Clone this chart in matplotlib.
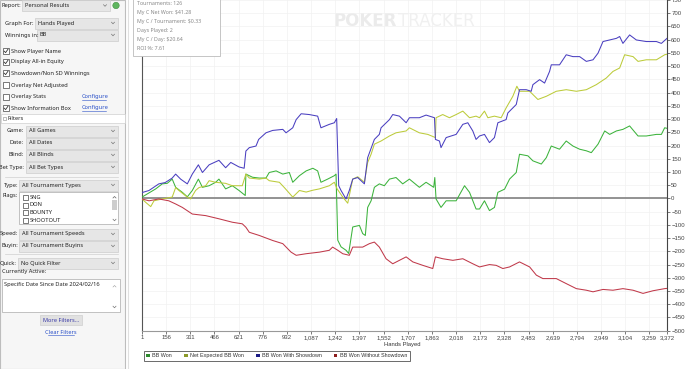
import matplotlib
matplotlib.use("Agg")
import matplotlib.pyplot as plt
from matplotlib.patches import Rectangle, Patch, Circle

# ---- data (hands played, BB) ----
hands_won = [1, 35, 89, 131, 163, 195, 217, 260, 292, 324, 363, 389, 432, 474, 495, 538, 581, 624,
             664, 668, 711, 754, 797, 818, 862, 905, 947, 969, 1012, 1055, 1098, 1129, 1150, 1193,
             1236, 1247, 1258, 1279, 1311, 1328, 1354, 1397, 1418, 1435, 1450, 1472, 1493, 1525,
             1557, 1590, 1632, 1675, 1718, 1782, 1825, 1874, 1881, 1889, 1921, 1954, 2018, 2072,
             2104, 2146, 2168, 2200, 2232, 2264, 2286, 2329, 2361, 2404, 2425, 2479, 2511, 2565,
             2597, 2629, 2682, 2725, 2768, 2811, 2854, 2886, 2929, 2972, 3004, 3047, 3089, 3132,
             3186, 3239, 3304, 3336, 3357, 3372]
bb_won = [5, 17, 36, 55, 57, 73, 42, 23, 6, 30, 73, 42, 48, 61, 73, 36, 48, 30,
          11, 92, 80, 77, 77, 98, 104, 92, 98, 61, 86, 104, 114, 104, 61, 73,
          86, 92, -158, -183, -196, -208, -108, -102, -133, -140, -34, -9, 42, 55,
          48, 73, 79, 55, 73, 42, 61, 42, 79, -2, -34, -9, -9, 48,
          23, -40, -40, -9, -46, -34, 23, 35, 73, 98, 167, 161, 142, 130,
          154, 198, 186, 217, 198, 186, 180, 173, 205, 255, 242, 255, 261, 274,
          236, 236, 242, 242, 267, 265]

hands_exp = [1, 25, 57, 78, 131, 195, 217, 238, 292, 313, 345, 367, 410, 432, 474, 538, 581, 645,
             668, 690, 754, 797, 818, 883, 915, 969, 1012, 1055, 1098, 1140, 1204, 1236, 1254,
             1290, 1322, 1354, 1386, 1429, 1450, 1472, 1493, 1536, 1590, 1632, 1697, 1718, 1782,
             1836, 1885, 1889, 1932, 1975, 2018, 2061, 2104, 2146, 2168, 2200, 2222, 2264, 2307,
             2339, 2382, 2408, 2425, 2490, 2543, 2597, 2661, 2725, 2790, 2854, 2918, 2982, 3025,
             3068, 3100, 3154, 3186, 3239, 3304, 3357, 3372]
net_expected = [-2, -15, -31, -9, -2, 5, 41, 30, 5, -2, 30, 41, 48, 67, 61, 57, 48, 48,
                92, 77, 73, 77, 67, 61, 41, 5, 30, 24, 31, 36, 48, 61, 36,
                5, -18, 73, 82, 61, 136, 167, 205, 217, 236, 248, 255, 267, 248,
                242, 230, 305, 317, 305, 317, 330, 305, 311, 305, 330, 305, 311, 305,
                342, 386, 424, 405, 405, 374, 386, 405, 411, 405, 411, 430, 455, 480,
                493, 543, 536, 518, 524, 524, 543, 545]

hands_sd = [1, 46, 109, 150, 195, 217, 249, 292, 324, 363, 389, 432, 495, 538, 571, 624, 657,
            668, 690, 733, 750, 797, 840, 905, 926, 969, 991, 1023, 1075, 1129, 1150, 1204,
            1236, 1251, 1264, 1279, 1311, 1332, 1354, 1386, 1429, 1450, 1493, 1525, 1536, 1590,
            1611, 1654, 1697, 1718, 1782, 1825, 1879, 1885, 1911, 1921, 1954, 2018, 2061, 2093,
            2125, 2146, 2168, 2200, 2232, 2264, 2286, 2339, 2350, 2404, 2425, 2468, 2500, 2511,
            2554, 2586, 2618, 2629, 2682, 2725, 2768, 2811, 2854, 2897, 2929, 2961, 3004, 3047,
            3068, 3089, 3132, 3175, 3239, 3304, 3336, 3372]
won_sd = [22, 30, 55, 60, 77, 92, 73, 55, 92, 127, 98, 127, 144, 116, 136, 119, 114,
          179, 192, 198, 223, 248, 257, 261, 248, 267, 298, 320, 317, 311, 267, 280,
          286, 302, 48, 30, -2, 30, 73, 79, 55, 154, 223, 242, 267, 298,
          317, 311, 286, 305, 305, 315, 305, 223, 217, 192, 230, 242, 280, 286,
          255, 223, 236, 242, 211, 230, 286, 298, 323, 355, 411, 411, 405, 430,
          449, 436, 480, 505, 505, 543, 536, 536, 518, 524, 549, 593, 599, 605,
          612, 586, 618, 599, 593, 593, 586, 605]

hands_nsd = [1, 46, 109, 173, 217, 260, 324, 410, 495, 581, 645, 668, 690, 754, 840, 905, 958,
             991, 1055, 1141, 1204, 1225, 1258, 1290, 1332, 1354, 1418, 1461, 1493, 1525, 1568,
             1611, 1654, 1697, 1740, 1804, 1868, 1885, 1932, 1997, 2061, 2125, 2168, 2232, 2275,
             2318, 2361, 2425, 2490, 2533, 2575, 2661, 2725, 2790, 2854, 2897, 2961, 3025, 3089,
             3154, 3218, 3282, 3357, 3372]
won_nsd = [-2, -9, -2, -9, -21, -34, -59, -65, -77, -90, -96, -109, -128, -140, -159, -171, -203,
           -215, -209, -203, -196, -184, -196, -209, -215, -184, -184, -171, -165, -184, -228,
           -247, -234, -221, -240, -253, -265, -221, -228, -234, -228, -247, -259, -250, -253,
           -265, -259, -240, -259, -290, -303, -303, -322, -341, -347, -353, -344, -347, -341,
           -347, -359, -349, -341, -340]

x_ticks = [1, 156, 311, 466, 621, 776, 932, 1087, 1242, 1397, 1552, 1707, 1863, 2018,
           2173, 2328, 2483, 2639, 2794, 2949, 3104, 3259, 3372]
info_lines = ["Tournaments: 126", "My C Net Won: $41.28", "My C / Tournament: $0.33",
              "Days Played: 2", "My C / Day: $20.64", "ROI %: 7.61"]
legend_labels = ["BB Won", "Net Expected BB Won", "BB Won With Showdown", "BB Won Without Showdown"]

W, H = 700, 369
fig = plt.figure(figsize=(7, 3.69), dpi=100)
fig.patch.set_facecolor("white")
UIF = ["Noto Sans", "DejaVu Sans"]
UFS = 4.1
LINK = "#2a50c8"

# ---- left options panel (pixel coordinates) ----
ui = fig.add_axes([0, 0, 1, 1])
ui.set_xlim(0, W)
ui.set_ylim(H, 0)
ui.axis("off")
ui.set_zorder(0)
ui.add_patch(Rectangle((0, 0), 125, H, facecolor="#f6f6f6", edgecolor="#bdbdbd", lw=0.8))
ui.plot([128, 128], [0, H], color="#e0e0e0", lw=0.8)


def chevron(x, y):
    ui.plot([x - 1.5, x, x + 1.5], [y - 0.8, y + 0.8, y - 0.8], color="#777", lw=0.5)


def dropdown(x0, x1, y, text):
    ui.add_patch(Rectangle((x0, y - 5.5), x1 - x0, 11, facecolor="#e6e6e6", edgecolor="#cccccc", lw=0.5))
    ui.text(x0 + 3, y, text, fontsize=UFS, family=UIF, va="center", color="#222")
    chevron(x1 - 5, y)


def label(x, y, text, ha="left", color="#222"):
    ui.text(x, y, text, fontsize=UFS, family=UIF, va="center", ha=ha, color=color)


def checkbox(x, y, checked, size=6):
    ui.add_patch(Rectangle((x, y - size / 2), size, size, facecolor="white", edgecolor="#444", lw=0.5))
    if checked:
        ui.plot([x + 1.2, x + 2.6, x + size - 1.0], [y + 0.2, y + 1.6, y - 1.8], color="#333", lw=0.6)


label(2, 5.5, "Report:")
dropdown(22, 110, 5.5, "Personal Results")
ui.add_patch(Circle((116, 5.5), 3.2, facecolor="#5fb65f", edgecolor="#3f8f3f", lw=0.4))
label(5, 23, "Graph For:")
dropdown(35, 118, 23, "Hands Played")
label(5, 35, "Winnings in:")
dropdown(37, 118, 35, "BB")

checks = [("Show Player Name", 51, True), ("Display All-in Equity", 62, True),
          ("Showdown/Non SD Winnings", 73, True), ("Overlay Net Adjusted", 85, False),
          ("Overlay Stats", 96.5, False), ("Show Information Box", 108, True)]
for txt, y, c in checks:
    checkbox(3, y, c)
    label(11, y, txt)
for y in (96.5, 108):
    label(82, y, "Configure", color=LINK)
    ui.plot([82, 106], [y + 3, y + 3], color=LINK, lw=0.4)

ui.add_patch(Rectangle((0.5, 113.5), 124, 9, facecolor="white", edgecolor="#cfcfcf", lw=0.5))
ui.add_patch(Rectangle((2.5, 116.5), 3, 3, facecolor="white", edgecolor="#888", lw=0.4))
label(8, 118, "Filters")

for txt, y, val in [("Game:", 131, "All Games"), ("Date:", 143, "All Dates"),
                    ("Blind:", 155, "All Blinds"), ("Bet Type:", 167, "All Bet Types")]:
    label(24, y, txt, ha="right")
    dropdown(26, 118, y, val)
ui.plot([5, 118], [177, 177], color="#d0d0d0", lw=0.5)

label(18, 185, "Type:", ha="right")
dropdown(19, 118, 185, "All Tournament Types")
label(18, 196, "Flags:", ha="right")
ui.add_patch(Rectangle((19, 191.5), 99, 32, facecolor="white", edgecolor="#aaaaaa", lw=0.5))
for txt, y in [("SNG", 197.5), ("DON", 205), ("BOUNTY", 212.5), ("SHOOTOUT", 220)]:
    checkbox(23, y, False, size=5)
    label(30, y, txt)
ui.add_patch(Rectangle((112, 199.5), 5, 10, facecolor="#cdcdcd", edgecolor="none"))
ui.plot([113, 114.5, 116], [198, 196.5, 198], color="#666", lw=0.5)
chevron(114.5, 220)

label(18, 234, "Speed:", ha="right")
dropdown(19, 118, 234, "All Tournament Speeds")
label(18, 246, "Buyin:", ha="right")
dropdown(19, 118, 246, "All Tournament Buyins")
ui.plot([5, 118], [254, 254], color="#d0d0d0", lw=0.5)
label(17, 263, "Quick:", ha="right")
dropdown(18, 118, 263, "No Quick Filter")
label(2, 272, "Currently Active:")
ui.add_patch(Rectangle((2, 279), 118, 33, facecolor="white", edgecolor="#aaaaaa", lw=0.5))
label(4, 284.5, "Specific Date Since Date 2024/02/16")
ui.plot([113, 114.5, 116], [287, 285.5, 287], color="#999", lw=0.4)
chevron(114.5, 307)
ui.add_patch(Rectangle((40, 315), 42, 10, facecolor="#e1e1e1", edgecolor="#cfcfcf", lw=0.5))
ui.text(61, 320, "More Filters...", fontsize=UFS, family=UIF, ha="center", va="center", color="#3a3aa8")
ui.text(61, 332, "Clear Filters", fontsize=UFS, family=UIF, ha="center", va="center", color=LINK)
ui.plot([48, 74], [335, 335], color=LINK, lw=0.4)

# watermark
ui.text(397, 21, "POKER", fontsize=12, fontweight="bold", color="#ebebeb", va="center", ha="right",
        family="DejaVu Sans")
ui.text(398, 21, "TRACKER", fontsize=12, color="#f0f0f0", va="center", ha="left", family="DejaVu Sans")

# ---- main chart ----
left, right = 142, 667
top, bottom = 0, 330.7
ax = fig.add_axes([left / W, 1 - bottom / H, (right - left) / W, (bottom - top) / H])
ax.set_zorder(1)
ax.patch.set_alpha(0)

ax.plot(hands_won, bb_won, color="#3cb33c", lw=0.75, zorder=3)
ax.plot(hands_exp, net_expected, color="#bccb3a", lw=0.75, zorder=3)
ax.plot(hands_sd, won_sd, color="#4a3fc0", lw=0.75, zorder=3)
ax.plot(hands_nsd, won_nsd, color="#c0394a", lw=0.75, zorder=3)
ax.axhline(0, color="#8a8a8a", lw=1.3, zorder=2)

ax.set_xlim(1, 3372)
ax.set_ylim(-500, 743)
ax.set_xticks(x_ticks)
ax.set_xticklabels([f"{t:,}" for t in x_ticks])
ax.set_yticks(range(-500, 751, 50))
ax.yaxis.tick_right()
ax.tick_params(axis="both", labelsize=4.3, colors="#444", length=2, width=0.5, pad=1)
ax.grid(True, color="#f1f1f1", lw=0.5)
for lab in ax.get_xticklabels() + ax.get_yticklabels():
    lab.set_family("Liberation Sans")
ax.spines["top"].set_visible(False)
ax.spines["left"].set_color("#555")
ax.spines["right"].set_color("#444")
ax.spines["bottom"].set_color("#999")
for s in ax.spines.values():
    s.set_linewidth(0.8)

fig.text(420 / W, 1 - 344.5 / H, "Hands Played", fontsize=4.2, ha="right", va="center",
         color="#333", family="Liberation Sans")

handles = [Patch(facecolor=c, edgecolor="none") for c in ["#2e8b2e", "#8c9a2a", "#1c1c86", "#8e1e1e"]]
leg = fig.legend(handles, legend_labels, ncol=4, loc="upper left",
                 bbox_to_anchor=(141 / W, 1 - 348 / H), bbox_transform=fig.transFigure,
                 prop={"family": "Liberation Sans", "size": 3.9}, handlelength=0.7, handleheight=0.7,
                 handletextpad=0.4, columnspacing=2.2, borderpad=0.5, fancybox=False,
                 frameon=True, edgecolor="#444")
leg.get_frame().set_linewidth(0.7)
for t in leg.get_texts():
    t.set_color("#333")

# ---- information box (drawn on top) ----
fg = fig.add_axes([0, 0, 1, 1])
fg.set_xlim(0, W)
fg.set_ylim(H, 0)
fg.axis("off")
fg.set_zorder(2)
fg.patch.set_alpha(0)
fg.add_patch(Rectangle((133, -2), 87, 58, facecolor="white", edgecolor="#bbbbbb", lw=0.6))
for i, line in enumerate(info_lines):
    fg.text(137, 3.5 + 9 * i, line, fontsize=3.8, family=UIF, va="center", color="#8a8a8a")

fig.savefig("out.png", dpi=100)
